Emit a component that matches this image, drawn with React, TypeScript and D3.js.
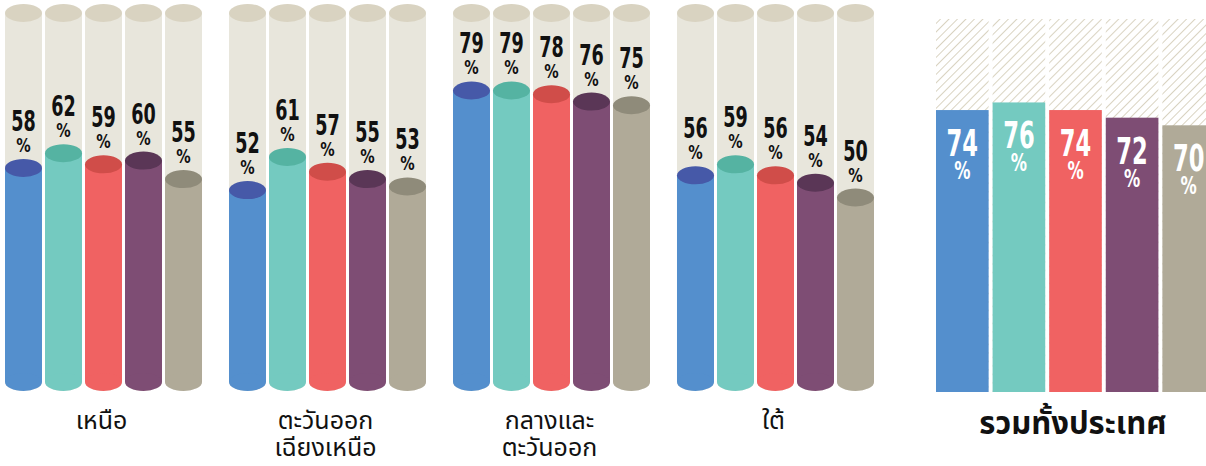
import React from "react";
import * as d3 from "d3";

const regionLabels: string[][] = [["เหนือ"], ["ตะวันออก", "เฉียงเหนือ"], ["กลางและ", "ตะวันออก"], ["ใต้"]];
const northValues = [58, 62, 59, 60, 55];
const northeastValues = [52, 61, 57, 55, 53];
const centralEastValues = [79, 79, 78, 76, 75];
const southValues = [56, 59, 56, 54, 50];
const regionValues = [northValues, northeastValues, centralEastValues, southValues];
const nationalLabel = "รวมทั้งประเทศ";
const nationalValues = [74, 76, 74, 72, 70];
const seriesIdx = [0, 1, 2, 3, 4];
const bodyColors = ["#548fcd", "#74cac0", "#f06262", "#7e4d74", "#b0aa98"];
const topColors = ["#4659a8", "#55b3a2", "#d04d49", "#5a3656", "#8f8b7a"];

const W = 1206;
const H = 466;
const numFont = "'DejaVu Sans Condensed', 'DejaVu Sans', sans-serif";
const thaiFont = "'Noto Sans Thai', 'Noto Sans Thai UI', 'Loma', 'Noto Sans', sans-serif";

export default function App() {
  const xGroup = d3.scaleBand<number>().domain(d3.range(regionValues.length)).range([5, 874]).paddingInner(0.1205);
  const xInner = d3.scaleBand<number>().domain(seriesIdx).range([0, xGroup.bandwidth()]).paddingInner(0.075);
  const y = d3.scaleLinear().domain([0, 100]).range([382, 13]);
  const ry = 9;

  const xNat = d3.scaleBand<number>().domain(seriesIdx).range([936, 1215]).paddingInner(0.07);
  const yNat = d3.scaleLinear().domain([0, 100]).range([392, 11]);
  const hatchTop = 19;

  return (
    <svg width={W} height={H} style={{ position: "absolute", left: 0, top: 0 }}>
      <defs>
        <pattern id="hatch" patternUnits="userSpaceOnUse" width={6} height={6} patternTransform="rotate(45)">
          <rect width={6} height={6} fill="#ffffff" />
          <line x1={0} y1={0} x2={0} y2={6} stroke="#d9d3c1" strokeWidth={2} />
        </pattern>
      </defs>
      {regionValues.map((vals, gi) => {
        const gx = xGroup(gi)!;
        return (
          <g key={gi}>
            {vals.map((v, si) => {
              const x = gx + xInner(si)!;
              const w = xInner.bandwidth();
              const cx = x + w / 2;
              const rx = w / 2;
              const base = y(0);
              const top = y(100);
              const vt = y(v);
              return (
                <g key={si}>
                  <rect x={x} y={top} width={w} height={base - top} fill="#e8e6dc" />
                  <ellipse cx={cx} cy={base} rx={rx} ry={ry} fill="#e8e6dc" />
                  <ellipse cx={cx} cy={top} rx={rx} ry={ry} fill="#d9d3c1" />
                  <rect x={x} y={vt} width={w} height={base - vt} fill={bodyColors[si]} />
                  <ellipse cx={cx} cy={base} rx={rx} ry={ry} fill={bodyColors[si]} />
                  <ellipse cx={cx} cy={vt} rx={rx} ry={ry} fill={topColors[si]} />
                  <g transform={`translate(${cx},${vt - 37}) scale(0.7,1)`}>
                    <text textAnchor="middle" fontFamily={numFont} fontWeight="bold" fontSize={28} fill="#111">
                      {v}
                    </text>
                  </g>
                  <g transform={`translate(${cx},${vt - 16}) scale(0.8,1)`}>
                    <text textAnchor="middle" fontFamily={numFont} fontWeight="bold" fontSize={20} fill="#111">
                      %
                    </text>
                  </g>
                </g>
              );
            })}
            {regionLabels[gi].map((line, li) => (
              <text
                key={li}
                x={gx + xGroup.bandwidth() / 2 - 2}
                y={429 + li * 27}
                textAnchor="middle"
                fontFamily={thaiFont}
                fontSize={25}
                fill="#111"
              >
                {line}
              </text>
            ))}
          </g>
        );
      })}
      {nationalValues.map((v, si) => {
        const x = xNat(si)!;
        const w = xNat.bandwidth();
        const cx = x + w / 2;
        const vt = yNat(v);
        return (
          <g key={si}>
            <rect x={x} y={hatchTop} width={w} height={yNat(0) - hatchTop} fill="url(#hatch)" />
            <rect x={x} y={vt} width={w} height={yNat(0) - vt} fill={bodyColors[si]} />
            <g transform={`translate(${cx},${vt + 46}) scale(0.68,1)`}>
              <text textAnchor="middle" fontFamily={numFont} fontWeight="bold" fontSize={37} fill="#fff">
                {v}
              </text>
            </g>
            <g transform={`translate(${cx},${vt + 69}) scale(0.75,1)`}>
              <text textAnchor="middle" fontFamily={numFont} fontWeight="bold" fontSize={24} fill="#fff">
                %
              </text>
            </g>
          </g>
        );
      })}
      <text x={1073} y={434} textAnchor="middle" fontFamily={thaiFont} fontWeight="bold" fontSize={31} fill="#111">
        {nationalLabel}
      </text>
    </svg>
  );
}
